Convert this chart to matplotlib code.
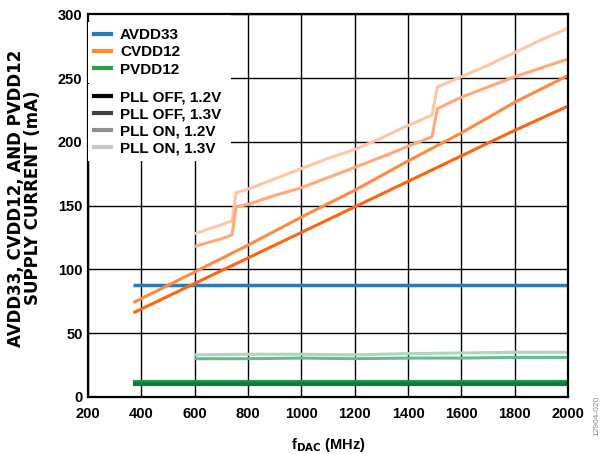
import matplotlib
matplotlib.use("Agg")
import matplotlib.pyplot as plt
from matplotlib.lines import Line2D
from matplotlib.patches import Rectangle

plt.rcParams['font.family'] = ['Liberation Sans', 'DejaVu Sans']
plt.rcParams['font.weight'] = 'bold'

# ---- data ----
x_off = [370, 600, 800, 1000, 1200, 1400, 1600, 1800, 2000]
avdd33 = [88, 88, 88, 88, 88, 88, 88, 88, 88]
cvdd_off_12 = [66, 89, 109, 129, 149, 169, 189, 209, 228]
cvdd_off_13 = [74, 98, 119, 141, 162, 185, 207, 231, 252]
pvdd_off_12 = [10.5, 10.5, 10.5, 10.5, 10.5, 10.5, 10.5, 10.5, 10.5]
pvdd_off_13 = [12, 12, 12, 12, 12, 12, 12, 12, 12]

x_on = [600, 700, 740, 755, 800, 900, 1000, 1100, 1200, 1300, 1370, 1490,
        1510, 1600, 1700, 1800, 1900, 2000]
cvdd_on_12 = [118, 124, 127, 149, 151, 158, 164, 172, 180, 188, 194, 204,
              226, 235, 243, 251, 258, 265]
cvdd_on_13 = [128, 135, 138, 160, 163, 171, 179, 187, 194, 203, 210, 221,
              243, 251, 260, 270, 280, 289]

x_pon = [600, 800, 1000, 1200, 1400, 1600, 1800, 2000]
pvdd_on_12 = [30, 30, 30.5, 30, 30.5, 30.5, 31, 31]
pvdd_on_13 = [33, 33.5, 33.5, 33, 34, 34.5, 35, 35]

x_ticks = [200, 400, 600, 800, 1000, 1200, 1400, 1600, 1800, 2000]
y_ticks = [0, 50, 100, 150, 200, 250, 300]

rail_labels = ['AVDD33', 'CVDD12', 'PVDD12']
mode_labels = ['PLL OFF, 1.2V', 'PLL OFF, 1.3V', 'PLL ON, 1.2V', 'PLL ON, 1.3V']

fig = plt.figure(figsize=(6.03, 4.54), dpi=100)
ax = fig.add_axes([0.146, 0.1256, 0.796, 0.843])

# PVDD12
ax.plot(x_off, pvdd_off_13, color='#1a9a52', lw=3, solid_capstyle='butt')
ax.plot(x_off, pvdd_off_12, color='#0b7a3a', lw=3, solid_capstyle='butt')
ax.plot(x_pon, pvdd_on_13, color='#a8d8bd', lw=2.2, solid_capstyle='butt')
ax.plot(x_pon, pvdd_on_12, color='#68b98c', lw=2.2, solid_capstyle='butt')
# AVDD33
ax.plot(x_off, avdd33, color='#2b7bba', lw=2.5, solid_capstyle='butt')
# CVDD12
ax.plot(x_on, cvdd_on_13, color='#ffc6a6', lw=2.2, solid_capstyle='butt')
ax.plot(x_on, cvdd_on_12, color='#ffa878', lw=2.2, solid_capstyle='butt')
ax.plot(x_off, cvdd_off_13, color='#ff8a40', lw=2.2, solid_capstyle='butt')
ax.plot(x_off, cvdd_off_12, color='#ff6410', lw=2.2, solid_capstyle='butt')

ax.set_xlim(200, 2000)
ax.set_ylim(0, 300)
ax.set_xticks(x_ticks)
ax.set_yticks(y_ticks)
ax.grid(True, color='black', lw=1.0)
ax.set_axisbelow(True)
ax.tick_params(axis='x', length=0, labelsize=10.5, pad=7)
ax.tick_params(axis='y', length=0, labelsize=10.5, pad=4)
for lab in ax.get_xticklabels() + ax.get_yticklabels():
    lab.set_fontweight('bold')
for s in ax.spines.values():
    s.set_linewidth(1.6)

ax.set_xlabel('f$_{\\mathbf{DAC}}$ (MHz)', fontsize=10.5, fontweight='bold', labelpad=11)
ax.set_ylabel('AVDD33, CVDD12, AND PVDD12\nSUPPLY CURRENT (mA)', fontsize=12,
              fontweight='bold', linespacing=0.95,
              family=['DejaVu Sans'])
ax.yaxis.set_label_coords(-0.095, 0.52)

# white backing behind the legend block (hides grid lines there)
ax.add_patch(Rectangle((0.0, 0.63), 0.298, 0.37, transform=ax.transAxes,
                       facecolor='white', edgecolor='none', zorder=1.5))

common = dict(frameon=True, fancybox=False, edgecolor='none', facecolor='white',
              framealpha=1, handlelength=1.1, handletextpad=0.6,
              labelspacing=0.2, borderpad=0.4, borderaxespad=0.0,
              prop={'weight': 'bold', 'size': 11})

h1 = [Line2D([], [], color=c, lw=3) for c in ['#2b7bba', '#ff8a30', '#2ca048']]
h2 = [Line2D([], [], color=c, lw=3) for c in ['#000000', '#404040', '#909090', '#c8c8c8']]

leg1 = ax.legend(h1, rail_labels, loc='upper left',
                 bbox_to_anchor=(0.0, 0.979), **common)
ax.add_artist(leg1)
leg2 = ax.legend(h2, mode_labels, loc='upper left',
                 bbox_to_anchor=(0.0, 0.818), **common)

fig.text(0.99, 0.04, '12904-020', rotation=90, fontsize=6, color='#888888',
         ha='center', va='bottom', fontweight='normal')

fig.savefig('out.png', dpi=100)
